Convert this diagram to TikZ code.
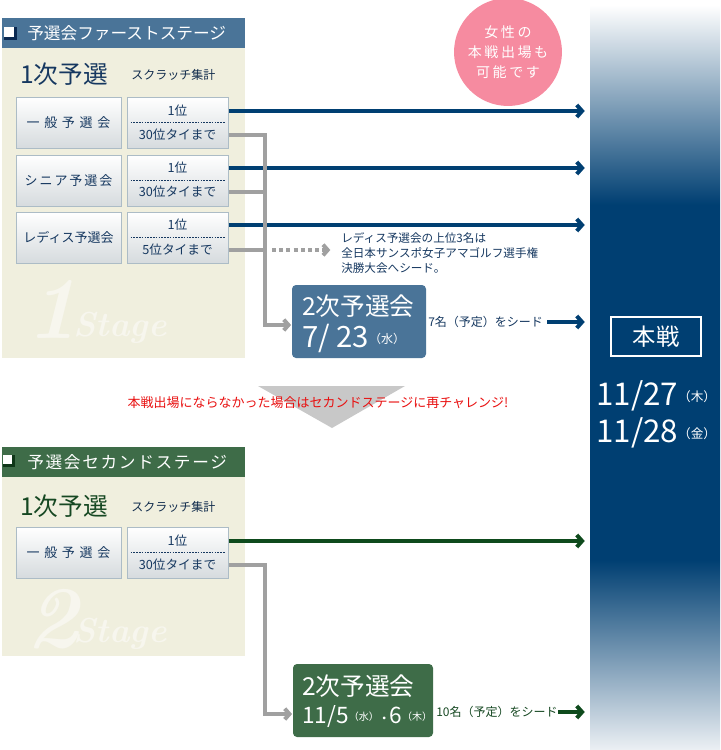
\documentclass[tikz,border=0pt]{standalone}
\usepackage{fontspec}
\usepackage{xcolor}
\usepackage{tikz}
\usetikzlibrary{arrows.meta, positioning, calc}

\newfontfamily\jp{Noto Sans CJK JP}
\newcommand{\fsz}[1]{\fontsize{#1}{#1}\selectfont}
\newcommand{\lsp}[1]{\addfontfeature{LetterSpace=#1}}
\newcommand{\wday}[2][9]{\raisebox{\dimexpr #1pt*3/10\relax}{\fsz{#1}（#2）}}

\definecolor{navy}{RGB}{0,63,114}
\definecolor{navydark}{RGB}{10,40,80}
\definecolor{hdrblue}{RGB}{74,116,152}
\definecolor{hdrgreen}{RGB}{62,108,72}
\definecolor{greendark}{RGB}{15,55,25}
\definecolor{greenarr}{RGB}{14,74,28}
\definecolor{greenink}{RGB}{22,72,34}
\definecolor{beige}{RGB}{240,239,222}
\definecolor{wmark}{RGB}{247,246,238}
\definecolor{boxgrey}{RGB}{214,219,222}
\definecolor{boxline}{RGB}{172,188,198}
\definecolor{ink}{RGB}{22,56,96}
\definecolor{greyc}{RGB}{160,160,160}
\definecolor{trigrey}{RGB}{200,200,200}
\definecolor{pinkc}{RGB}{246,139,160}
\definecolor{redc}{RGB}{232,16,16}
\definecolor{colbot}{RGB}{236,240,244}

\pgfdeclareverticalshading{colshade}{100bp}{color(0bp)=(colbot); color(25bp)=(colbot);
  color(37.75bp)=(navy); color(61.6bp)=(navy); color(75bp)=(white); color(100bp)=(white)}

\begin{document}
\begin{tikzpicture}[x=0.75pt, y=-0.75pt, font=\jp,
    lbox/.style={draw=boxline, line width=0.75pt, top color=white, bottom color=boxgrey,
      minimum width=78.75pt, minimum height=38.25pt, inner sep=0pt, text=ink, font=\jp\fsz{9.75}},
    rbox/.style={lbox, minimum width=75.75pt},
    rtxt/.style={inner sep=0pt, text=ink, font=\jp\fsz{9.5}},
    divline/.style={ink, line width=0.6pt, dash pattern=on 1.2pt off 0.9pt},
    navyarr/.style={navy, line width=3pt, -{Straight Barb[length=4pt,width=9pt]}, shorten >=3.75pt},
    greenarrow/.style={navyarr, greenarr},
    greyline/.style={greyc, line width=3pt},
    greyarr/.style={greyline, -{Straight Barb[length=3.5pt,width=8pt]}, shorten >=0.5pt},
    dotarr/.style={greyarr, dash pattern=on 3pt off 2.4pt},
    qbox/.style={rounded corners=3pt, minimum height=54.75pt, inner sep=0pt},
    wm/.style={anchor=base west, inner sep=0pt, text=wmark}]
\useasboundingbox (0,0) rectangle (721,750);

% right column
\node[shade, shading=colshade, minimum width=97.5pt, minimum height=558.75pt, inner sep=0pt] (col) at (655,377.5) {};
\node[draw=white, line width=1.5pt, minimum width=67.5pt, minimum height=29.25pt, text=white, font=\jp\fsz{17.5}] (honsen) at (656,336.5) {本戦};
\node[anchor=west, inner sep=0pt, text=white] (date1) at (596,396) {{\fsz{23.5}11/27}\wday[9.5]{木}};
\node[anchor=west, inner sep=0pt, text=white] (date2) at (596,433) {{\fsz{23.5}11/28}\wday[9.5]{金}};

\node[circle, fill=pinkc, minimum size=75pt, text=white, align=center,
  font=\jp\fontsize{10.5}{15}\selectfont\lsp{18}] (women) at (508,52) {女性の\\本戦出場も\\可能です};

% stage 1
\fill[beige] (2,48) rectangle (245,358);
\fill[hdrblue] (2,18) rectangle (245,48);
\fill[navydark] (4,27) rectangle (17,40);
\fill[white] (4,27) rectangle (14,37);
\node[anchor=west, inner sep=0pt, text=white, font=\jp\fsz{12.5}] (hd1) at (27,33) {予選会ファーストステージ};
\node[wm, font=\rmfamily\bfseries\itshape\fsz{66}] (wm1) at (26,338) {1};
\node[wm, font=\rmfamily\bfseries\itshape\fsz{26}\lsp{6}] (wm1s) at (73,336) {Stage};
\node[anchor=west, inner sep=0pt, text=ink, font=\jp\fsz{18.5}] (pre1) at (20,74) {1次予選};
\node[anchor=west, inner sep=0pt, text=ink!80!black, font=\jp\fsz{9}] (scr1) at (131,75) {スクラッチ集計};

\node[lbox] (g1) at (68.5,122.5) {\lsp{14}一 般 予 選 会};
\node[rbox] (r1) at (177.5,122.5) {};
\node[rtxt] (r1hi) at (177.5,111) {1位};
\node[rtxt] (r1lo) at (177.5,135) {30位タイまで};
\draw[divline] ($(r1.west)+(4,0)$) -- ($(r1.east)+(-4,0)$);

\node[lbox] (g2) at (68.5,180.5) {\lsp{15}シニア予選会};
\node[rbox] (r2) at (177.5,180.5) {};
\node[rtxt] (r2hi) at (177.5,168) {1位};
\node[rtxt] (r2lo) at (177.5,192) {30位タイまで};
\draw[divline] ($(r2.west)+(4,0)$) -- ($(r2.east)+(-4,0)$);

\node[lbox] (g3) at (68.5,237.5) {レディス予選会};
\node[rbox] (r3) at (177.5,237.5) {};
\node[rtxt] (r3hi) at (177.5,225) {1位};
\node[rtxt] (r3lo) at (177.5,250) {5位タイまで};
\draw[divline] ($(r3.west)+(4,0)$) -- ($(r3.east)+(-4,0)$);

\draw[navyarr] (r1hi -| r1.east) -- (r1hi -| col.west);
\draw[navyarr] (r2hi -| r2.east) -- (r2hi -| col.west);
\draw[navyarr] (r3hi -| r3.east) -- (r3hi -| col.west);

\node[qbox, fill=hdrblue, minimum width=100.5pt] (q1) at (359,321.5) {};
\node[anchor=west, inner sep=0pt, text=white, font=\jp\fsz{18.5}] (q1a) at (302,306) {2次予選会};
\node[anchor=west, inner sep=0pt, text=white] (q1b) at (302,338) {{\fsz{22}7/ 23}\wday{水}};

\coordinate (trunk1) at (265,325);
\draw[greyarr] (r1lo -| r1.east) -| (trunk1) -- (trunk1 -| q1.west);
\draw[greyline] (r2lo -| r2.east) -- (r2lo -| trunk1);
\draw[greyline] (r3lo -| r3.east) -- (r3lo -| trunk1);

\node[anchor=west, inner sep=0pt, align=left, text=ink, font=\jp\fontsize{8.7}{11.25}\selectfont] (note) at (341,253)
  {レディス予選会の上位3名は\\全日本サンスポ女子アマゴルフ選手権\\決勝大会へシード。};
\draw[dotarr] ($(r3lo -| trunk1)+(7,0)$) -- ($(r3lo -| note.west)+(-10,0)$);

\node[anchor=west, inner sep=0pt, text=ink, font=\jp\fsz{9}] (seed1) at (428,322) {7名（予定）をシード};
\draw[navyarr] ($(seed1.east)+(4,0)$) -- (seed1 -| col.west);

% down arrow and message
\fill[trigrey] (258,386) -- (405,386) -- (332,428) -- cycle;
\node[inner sep=0pt, text=redc, font=\jp\fsz{9.75}] (retry) at (318,403) {本戦出場にならなかった場合はセカンドステージに再チャレンジ!};

% stage 2
\fill[beige] (2,477) rectangle (245,656);
\fill[hdrgreen] (2,447) rectangle (245,477);
\fill[greendark] (3,455) rectangle (15,467);
\fill[white] (3,455) rectangle (12,464);
\node[anchor=west, inner sep=0pt, text=white, font=\jp\fsz{12.5}\lsp{10}] (hd2) at (27,462) {予選会セカンドステージ};
\node[wm, font=\rmfamily\bfseries\itshape\fsz{66}] (wm2) at (26,647) {2};
\node[wm, font=\rmfamily\bfseries\itshape\fsz{26}\lsp{6}] (wm2s) at (73,642) {Stage};
\node[anchor=west, inner sep=0pt, text=greenink, font=\jp\fsz{18.5}] (pre2) at (20,506) {1次予選};
\node[anchor=west, inner sep=0pt, text=ink!80!black, font=\jp\fsz{9}] (scr2) at (131,507) {スクラッチ集計};

\node[lbox] (h1) at (68.5,552.5) {\lsp{14}一 般 予 選 会};
\node[rbox] (s1) at (177.5,552.5) {};
\node[rtxt] (s1hi) at (177.5,541) {1位};
\node[rtxt] (s1lo) at (177.5,565) {30位タイまで};
\draw[divline] ($(s1.west)+(4,0)$) -- ($(s1.east)+(-4,0)$);

\draw[greenarrow] (s1hi -| s1.east) -- (s1hi -| col.west);

\node[qbox, fill=hdrgreen, minimum width=105pt] (q2) at (363,700.5) {};
\node[anchor=west, inner sep=0pt, text=white, font=\jp\fsz{18.5}] (q2a) at (302,686) {2次予選会};
\node[anchor=west, inner sep=0pt, text=white] (q2b) at (302,717)
  {{\fsz{17}11/5}\wday[7.5]{水}\kern-1pt{\fsz{10}・}\kern-1pt{\fsz{17}6}\wday[7.5]{木}};

\coordinate (trunk2) at (265,714);
\draw[greyarr] (s1lo -| s1.east) -| (trunk2) -- (trunk2 -| q2.west);

\node[anchor=west, inner sep=0pt, text=greenink, font=\jp\fsz{9}] (seed2) at (436,712) {10名（予定）をシード};
\draw[greenarrow] (seed2.east) -- (seed2 -| col.west);
\end{tikzpicture}
\end{document}
